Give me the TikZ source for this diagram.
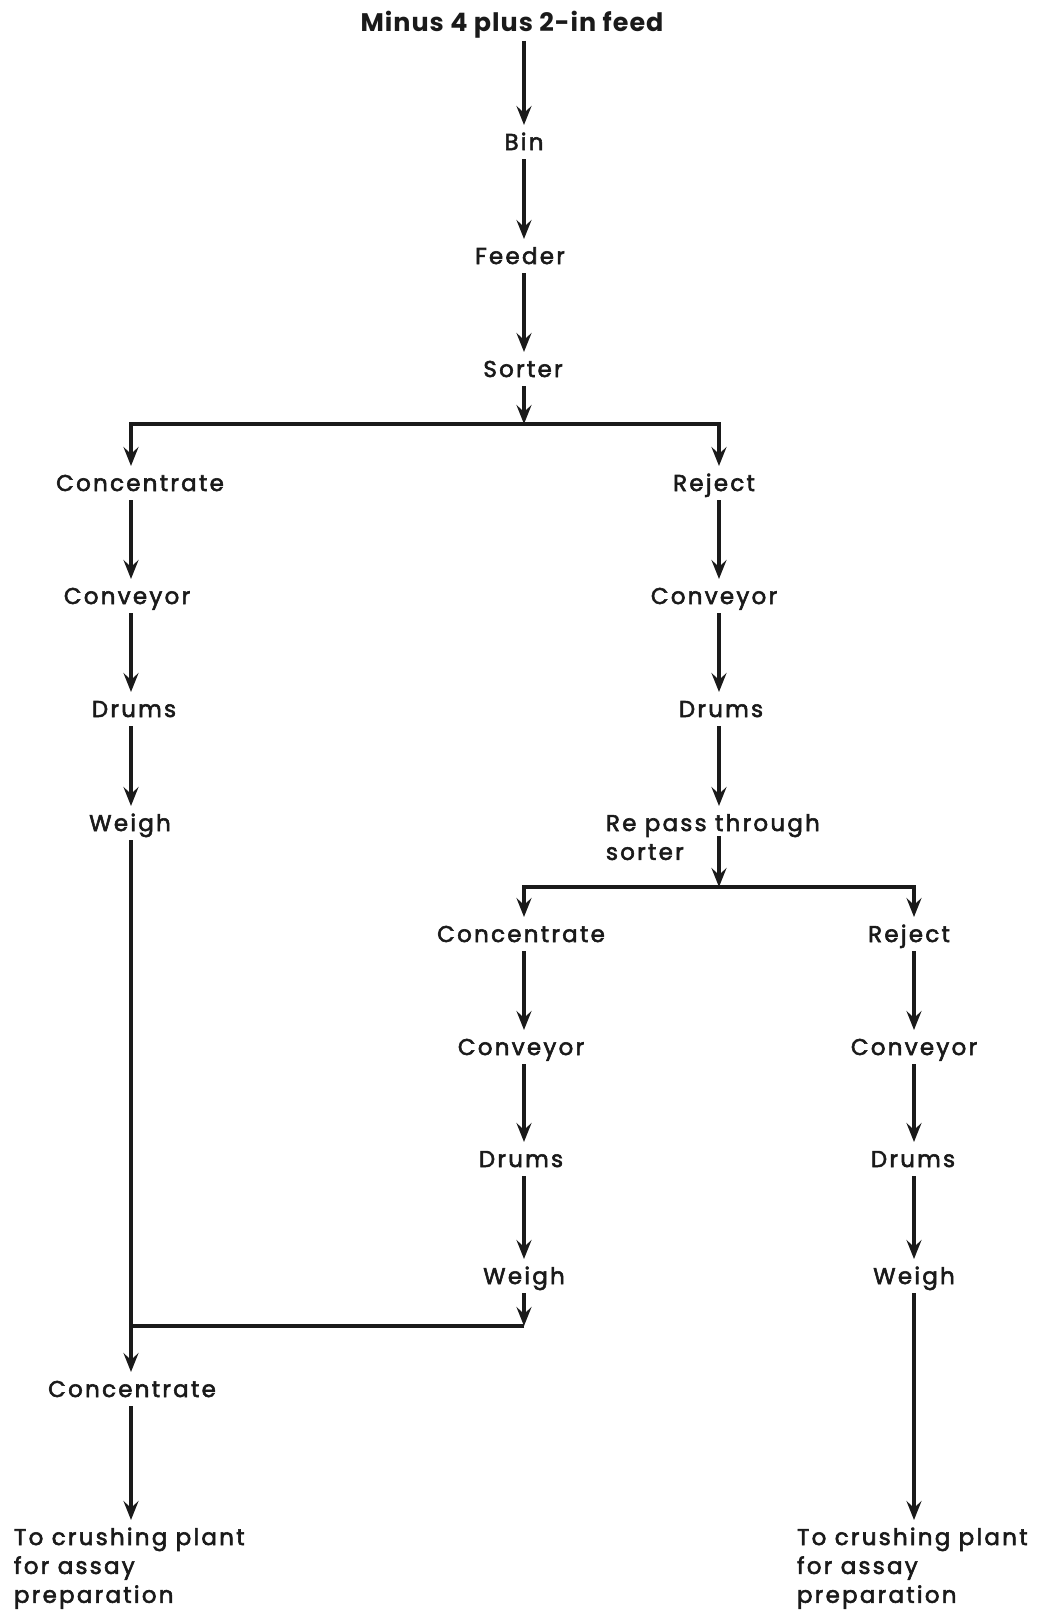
\documentclass[tikz,border=0pt]{standalone}
\usepackage{fontspec}
\setmainfont{Poppins}[LetterSpace=10, FakeBold=2.5]
\newfontfamily\ttlfont{Poppins}[LetterSpace=4]
\usetikzlibrary{arrows.meta,calc}
\definecolor{ink}{HTML}{1A1A1A}
\begin{document}
\begin{tikzpicture}[x=1bp,y=-1bp,
  lbl/.style={inner xsep=2bp, inner ysep=9bp, outer sep=0pt, anchor=base,
    text height=16bp, text depth=0bp, text=ink,
    font=\fontsize{23}{29}\selectfont},
  lblw/.style={lbl, anchor=base west},
  ttl/.style={lbl, font=\fontsize{25.5}{29}\selectfont\ttlfont\bfseries},
  arr/.style={draw=ink, line width=3.3bp, -{Stealth[length=19bp,width=15bp,inset=7bp]}},
  ln/.style={draw=ink, line width=3.3bp}]
\useasboundingbox (0,0) rectangle (1045,1614);
\coordinate (T) at (524,0);
\coordinate (L) at (131,0);
\coordinate (R) at (719,0);
\coordinate (A) at (524,0);
\coordinate (B) at (914,0);
% nodes
\node[ttl] (title) at (512,32) {Minus 4 plus 2-in feed};
\node[lbl] (bin) at (524,150) {Bin};
\node[lbl] (feeder) at (520,264) {Feeder};
\node[lbl] (sorter) at (523,377) {Sorter};
\node[lbl] (conc1) at (140,491) {Concentrate};
\node[lbl] (rej1) at (714,491) {Reject};
\node[lbl] (conv1) at (127,604) {Conveyor};
\node[lbl] (conv1r) at (714,604) {Conveyor};
\node[lbl] (drums1) at (134,717) {Drums};
\node[lbl] (drums1r) at (721,717) {Drums};
\node[lbl] (weigh1) at (130,831) {Weigh};
\node[lblw] (repass) at (604,831) {\begin{tabular}[t]{@{}l@{}}Re pass through\\sorter\end{tabular}};
\node[lbl] (conc2) at (521,942) {Concentrate};
\node[lbl] (rej2) at (909,942) {Reject};
\node[lbl] (conv2) at (521,1055) {Conveyor};
\node[lbl] (conv2r) at (914,1055) {Conveyor};
\node[lbl] (drums2) at (521,1167) {Drums};
\node[lbl] (drums2r) at (913,1167) {Drums};
\node[lbl] (weigh2) at (524,1284) {Weigh};
\node[lbl] (weigh2r) at (914,1284) {Weigh};
\node[lbl] (concF) at (132,1397) {Concentrate};
\node[lblw] (crushL) at (12,1545) {\begin{tabular}[t]{@{}l@{}}To crushing plant\\for assay\\preparation\end{tabular}};
\node[lblw] (crushR) at (795,1545) {\begin{tabular}[t]{@{}l@{}}To crushing plant\\for assay\\preparation\end{tabular}};
\coordinate (j1) at (524,424);
\coordinate (j2) at (719,887);
\coordinate (m) at (131,1326);
% connectors
\draw[arr] (title.south -| T) -- (bin.north -| T);
\draw[arr] (bin.south -| T) -- (feeder.north -| T);
\draw[arr] (feeder.south -| T) -- (sorter.north -| T);
\draw[arr] (sorter.south -| T) -- (j1);
\draw[arr] (j1) -| (conc1.north -| L);
\draw[arr] (j1) -| (rej1.north -| R);
\draw[arr] (conc1.south -| L) -- (conv1.north -| L);
\draw[arr] (conv1.south -| L) -- (drums1.north -| L);
\draw[arr] (drums1.south -| L) -- (weigh1.north -| L);
\draw[arr] (weigh1.south -| L) -- (concF.north -| L);
\draw[arr] (rej1.south -| R) -- (conv1r.north -| R);
\draw[arr] (conv1r.south -| R) -- (drums1r.north -| R);
\draw[arr] (drums1r.south -| R) -- (repass.north -| R);
\draw[arr] ($(repass.base -| R)+(0,5)$) -- (j2);
\draw[arr] (j2) -| (conc2.north -| A);
\draw[arr] (j2) -| (rej2.north -| B);
\draw[arr] (conc2.south -| A) -- (conv2.north -| A);
\draw[arr] (conv2.south -| A) -- (drums2.north -| A);
\draw[arr] (drums2.south -| A) -- (weigh2.north -| A);
\draw[arr] (weigh2.south -| A) -- (m -| A);
\draw[ln] (m -| A) -- (m);
\draw[arr] (rej2.south -| B) -- (conv2r.north -| B);
\draw[arr] (conv2r.south -| B) -- (drums2r.north -| B);
\draw[arr] (drums2r.south -| B) -- (weigh2r.north -| B);
\draw[arr] (weigh2r.south -| B) -- (crushR.north -| B);
\draw[arr] (concF.south -| L) -- (crushL.north -| L);
\end{tikzpicture}
\end{document}
